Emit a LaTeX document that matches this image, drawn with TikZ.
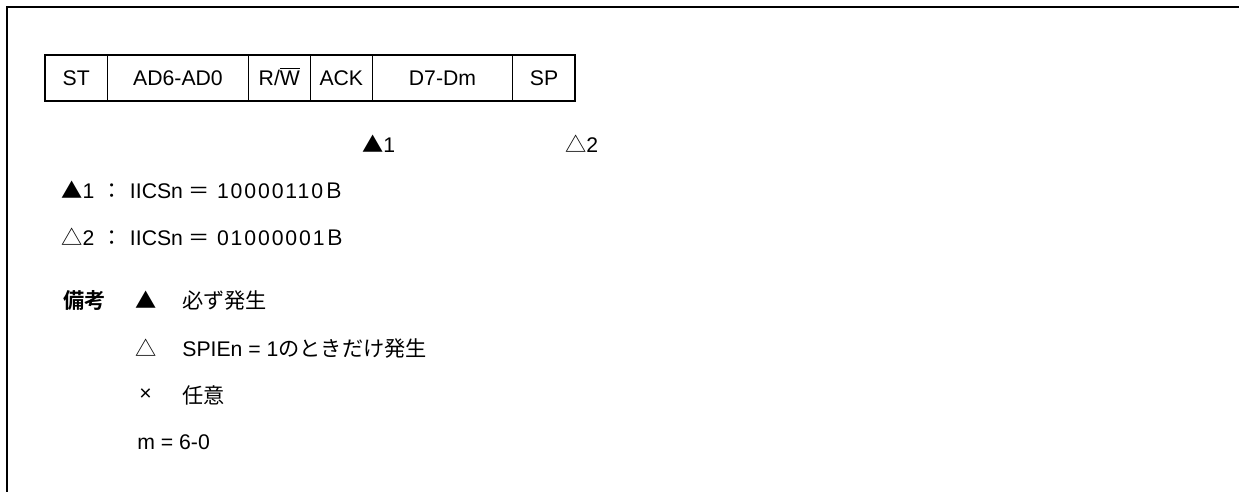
\documentclass[tikz,border=0pt]{standalone}
\usepackage{fontspec}
\setmainfont{Liberation Sans}
\newfontfamily\jpfont{Noto Sans CJK JP}[BoldFont={Noto Sans CJK JP Bold}]
\usetikzlibrary{positioning,calc}
\newcommand{\filltri}{{\jpfont ▲}}
\newcommand{\opentri}{{\jpfont △}}
% register value line: symbol, number, bits
\newcommand{\regval}[3]{#1#2\hspace{3.6pt}{\jpfont ：}\hspace{3.6pt}IICSn\hspace{2.6pt}{\jpfont ＝}\hspace{3.8pt}{\addfontfeature{LetterSpace=9}#3}{\jpfont Ｂ}}

\begin{document}
\begin{tikzpicture}[x=0.5pt, y=-0.5pt,
        cellbox/.style={draw, line width=0.5pt, minimum height=23pt, inner sep=0pt,
                        outer sep=0pt, text height=7.6pt, text depth=0pt,
                        font=\fontsize{10.6}{12}\selectfont},
        note/.style={anchor=west, inner sep=0pt, font=\fontsize{10.6}{12}\selectfont},
        frame/.style={line width=1pt}
    ]
    \useasboundingbox (0,0) rectangle (1239,492);
    % open frame (top and left only)
    \draw[frame] (6.5,492) -- (6.5,7.5) -- (1239,7.5);
    % frame of the transfer
    \node[cellbox, minimum width=31.5pt, anchor=west] (st) at (44.7,78) {ST};
    \node[cellbox, minimum width=70.3pt, right=0pt of st] (addr) {AD6-AD0};
    \node[cellbox, minimum width=31pt, right=0pt of addr] (rw) {R/$\overline{\mbox{W}}$};
    \node[cellbox, minimum width=31pt, right=0pt of rw] (ack) {ACK};
    \node[cellbox, minimum width=70.2pt, right=0pt of ack] (data) {D7-Dm};
    \node[cellbox, minimum width=31.3pt, right=0pt of data] (sp) {SP};
    \draw[frame] (st.north west) rectangle (sp.south east);
    % interrupt points
    \node[note] (int1) at ($(ack.south east)+(-10.6,43)$) {\filltri1};
    \node[note] (int2) at ($(sp.south east)+(-10.6,43)$) {\opentri2};
    % register values
    \node[note] (val1) at (61,190) {\regval{\filltri}{1}{10000110}};
    \node[note] (val2) at (61,237) {\regval{\opentri}{2}{01000001}};
    % remarks
    \node[note] (rmk) at (63,300) {\jpfont\bfseries 備考};
    \node[note] (sym1) at (135,300) {\filltri};
    \node[note] (txt1) at (182,300) {\jpfont 必ず発生};
    \node[note] (sym2) at (135,348) {\opentri};
    \node[note] (txt2) at (182,348) {SPIEn = 1{\jpfont のときだけ発生}};
    \node[note] (sym3) at (139,395) {×};
    \node[note] (txt3) at (182,395) {\jpfont 任意};
    \node[note] (txt4) at (137,442) {m = 6-0};
\end{tikzpicture}
\end{document}
